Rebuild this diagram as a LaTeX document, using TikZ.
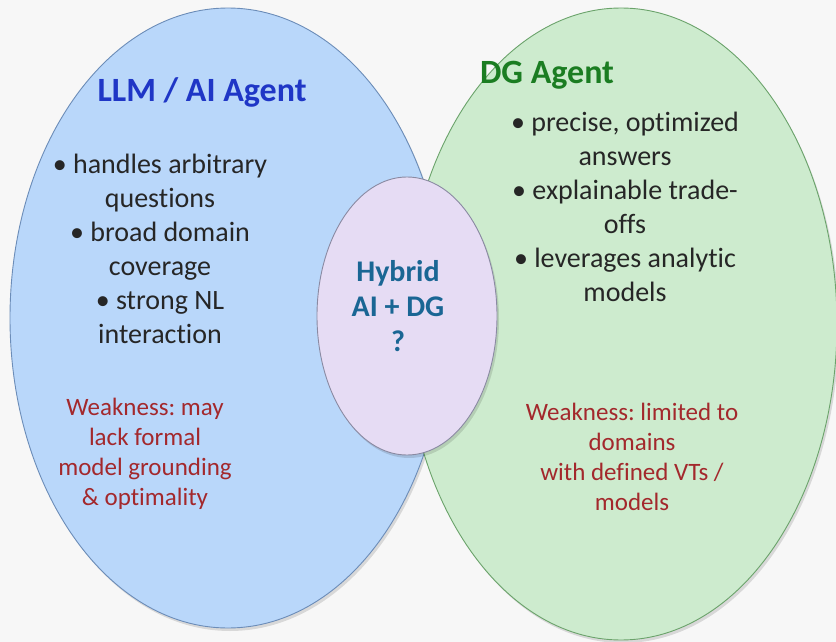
\documentclass[tikz,border=0pt]{standalone}
\usepackage{fontspec}
\setmainfont{Carlito}[Ligatures={NoCommon,NoDiscretionary}]
\usepackage{xcolor}
\usepackage{tikz}
\usetikzlibrary{shapes.geometric,shadows}
\frenchspacing

\definecolor{bgcol}{HTML}{F7F7F7}
\definecolor{llmfill}{HTML}{B9D7FA}
\definecolor{llmline}{HTML}{6C8DB8}
\definecolor{dgfill}{HTML}{CDEBCE}
\definecolor{dgline}{HTML}{6BA36B}
\definecolor{hybfill}{HTML}{E6DCF4}
\definecolor{hybline}{HTML}{8A8AA2}
\definecolor{llmtitle}{HTML}{1F36C6}
\definecolor{dgtitle}{HTML}{1B7D22}
\definecolor{hybtext}{HTML}{1A6694}
\definecolor{weaktext}{HTML}{A3282C}
\definecolor{bodytext}{HTML}{262626}

\begin{document}
\begin{tikzpicture}[
  x=1pt, y=-1pt,
  every node/.style={align=center},
  blob/.style={ellipse, draw, line width=0.9pt, inner sep=0pt,
    drop shadow={shadow xshift=2pt, shadow yshift=-3pt, fill=black, opacity=0.12}},
  heading/.style={font=\fontsize{34}{40}\selectfont\bfseries},
  bullets/.style={font=\fontsize{28}{34}\selectfont, text=bodytext},
  weakness/.style={font=\fontsize{25}{30}\selectfont, text=weaktext}
]

% Background
\fill[bgcol] (0,0) rectangle (836,642);
\useasboundingbox (0,0) rectangle (836,642);

% Sets
\node[blob, fill=llmfill, draw=llmline, minimum width=436pt, minimum height=620pt] (llm) at (228,318) {};
\node[blob, fill=dgfill, draw=dgline, minimum width=432pt, minimum height=632pt] (dg) at (621,324) {};
\node[blob, fill=hybfill, draw=hybline, minimum width=180pt, minimum height=278pt] (hybrid) at (407,316) {};

% Titles
\node[heading, text=llmtitle] (llmtitle) at (202,92) {LLM / AI Agent};
\node[heading, text=dgtitle] (dgtitle) at (547,75) {DG Agent};

% Strengths
\node[bullets] (llmpros) at (160,249) {• handles arbitrary\\questions\\• broad domain\\coverage\\• strong NL\\interaction};
\node[bullets] (dgpros) at (625,207) {• precise, optimized\\answers\\• explainable trade-\\offs\\• leverages analytic\\models};

% Weaknesses
\node[weakness] (llmweak) at (145,454) {Weakness: may\\lack formal\\model grounding\\\& optimality};
\node[weakness] (dgweak) at (632,457) {Weakness: limited to\\domains\\with defined VTs /\\models};

% Overlap
\node[font=\fontsize{30}{35}\selectfont\bfseries, text=hybtext] (hybtxt) at (398,306) {Hybrid\\AI + DG\\?};

\end{tikzpicture}
\end{document}
